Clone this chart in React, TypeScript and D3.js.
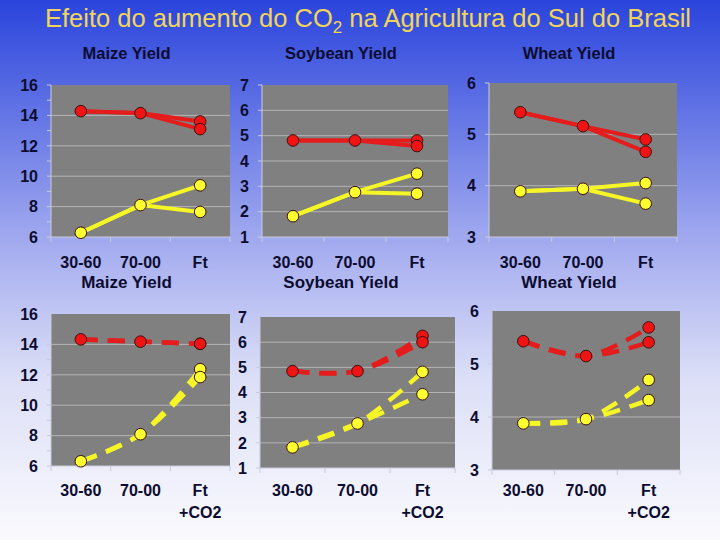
import React from 'react';
import * as d3 from 'd3';

// categories and tick values
const categories = ['30-60', '70-00', 'Ft'];
const maizeTicks = [16, 14, 12, 10, 8, 6];
const soyTicks = [7, 6, 5, 4, 3, 2, 1];
const wheatTicks = [6, 5, 4, 3];

// top row: observed trends (two scenarios for the future)
const maizeRed = [[14.28, 14.15, 13.6], [14.28, 14.15, 13.1]];
const maizeYellow = [[6.28, 8.1, 9.4], [6.28, 8.1, 7.65]];
const soyRed = [[4.81, 4.81, 4.81], [4.81, 4.81, 4.59]];
const soyYellow = [[1.82, 2.77, 3.5], [1.82, 2.77, 2.71]];
const wheatRed = [[5.43, 5.16, 4.9], [5.43, 5.16, 4.66]];
const wheatYellow = [[3.89, 3.94, 4.05], [3.89, 3.94, 3.65]];

// bottom row: future with +CO2
const maizeRedCO2 = [[14.33, 14.18, 14.04], [14.33, 14.18, 14.04]];
const maizeYellowCO2 = [[6.31, 8.09, 12.37], [6.31, 8.09, 11.85]];
const soyRedCO2 = [[4.85, 4.85, 6.25], [4.85, 4.85, 6.0]];
const soyYellowCO2 = [[1.82, 2.77, 4.82], [1.82, 2.77, 3.93]];
const wheatRedCO2 = [[5.43, 5.15, 5.69], [5.43, 5.15, 5.41]];
const wheatYellowCO2 = [[3.88, 3.96, 4.7], [3.88, 3.96, 4.32]];

const W = 720;
const H = 540;
const RED = '#e41c1c';
const YELLOW = '#f6f626';
const INK = '#0c0c30';

type PanelProps = {
  x0: number;
  x1: number;
  y0: number;
  y1: number;
  domain: [number, number];
  ticks: number[];
  grid: number[];
  red: number[][];
  yellow: number[][];
  dashed: boolean;
  title?: string;
};

function Panel({ x0, x1, y0, y1, domain, ticks, grid, red, yellow, dashed, title }: PanelProps) {
  const x = d3.scaleBand<string>().domain(categories).range([x0, x1]).padding(0);
  const y = d3.scaleLinear().domain(domain).range([y1, y0]);
  const cx = (i: number) => (x(categories[i]) as number) + x.bandwidth() / 2;

  const line = d3
    .line<number>()
    .x((_, i) => cx(i))
    .y((d) => y(d))
    .curve(dashed ? d3.curveCatmullRom.alpha(0.5) : d3.curveLinear);

  const minor = d3.range(domain[0], domain[1] + 0.001, 1);
  const bounds = [0, 1, 2, 3].map((i) => x0 + i * x.bandwidth());
  const mid = (x0 + x1) / 2 - 14;

  const series = (rows: number[][], color: string, key: string) => (
    <g key={key}>
      {rows
        .slice()
        .reverse()
        .map((r, k) => (
          <path
            key={k}
            d={line(r) ?? ''}
            fill="none"
            stroke={color}
            strokeWidth={dashed ? 4.5 : 4}
            strokeDasharray={dashed ? '17,10' : undefined}
            strokeLinecap="butt"
          />
        ))}
    </g>
  );

  const markers = (rows: number[][], color: string, key: string) => (
    <g key={key}>
      {rows.map((r, k) =>
        r.map((v, i) =>
          k > 0 && i < 2 ? null : (
            <circle key={`${k}-${i}`} cx={cx(i)} cy={y(v)} r={5.8} fill={color} stroke="#3a1010" strokeWidth={1} />
          )
        )
      )}
    </g>
  );

  return (
    <g>
      <rect x={x0} y={y0} width={x1 - x0} height={y1 - y0} fill="#808080" />
      {grid.map((g) => (
        <line key={g} x1={x0} x2={x1} y1={y(g)} y2={y(g)} stroke="#b4b4b4" strokeWidth={1} />
      ))}
      <line x1={x0} x2={x0} y1={y0} y2={y1} stroke="#c8cadc" strokeWidth={1} />
      {minor.map((m) => (
        <line key={m} x1={x0 - 4} x2={x0} y1={y(m)} y2={y(m)} stroke="#c8cadc" strokeWidth={1} />
      ))}
      <line x1={x0} x2={x1} y1={y1} y2={y1} stroke="#c8cadc" strokeWidth={1} />
      {bounds.map((b, i) => (
        <line key={i} x1={b} x2={b} y1={y1} y2={y1 + 5} stroke="#c8cadc" strokeWidth={1} />
      ))}
      {ticks.map((t) => (
        <text
          key={t}
          x={x0 - 13}
          y={y(t)}
          dy="0.36em"
          textAnchor="end"
          fontSize={16}
          fontWeight="bold"
          fill={INK}
        >
          {t}
        </text>
      ))}
      {series(yellow, YELLOW, 'ly')}
      {series(red, RED, 'lr')}
      {markers(yellow, '#ffff30', 'my')}
      {markers(red, '#ee1414', 'mr')}
      {categories.map((c, i) => (
        <text
          key={c}
          x={cx(i)}
          y={dashed ? 490 : 262}
          dy="0.36em"
          textAnchor="middle"
          fontSize={16}
          fontWeight="bold"
          fill={INK}
        >
          {c}
        </text>
      ))}
      {dashed && (
        <text x={cx(2)} y={512} dy="0.36em" textAnchor="middle" fontSize={16} fontWeight="bold" fill={INK}>
          +CO2
        </text>
      )}
      {title && (
        <>
          <text x={mid} y={53} dy="0.36em" textAnchor="middle" fontSize={16.5} fontWeight="bold" fill={INK}>
            {title}
          </text>
          <text x={mid} y={282} dy="0.36em" textAnchor="middle" fontSize={17} fontWeight="bold" fill={INK}>
            {title}
          </text>
        </>
      )}
    </g>
  );
}

export default function App() {
  return (
    <svg
      width={W}
      height={H}
      style={{ position: 'absolute', left: 0, top: 0, fontFamily: 'Liberation Sans, Arial, sans-serif' }}
    >
      <defs>
        <linearGradient id="bg" x1="0" y1="0" x2="0" y2="1">
          <stop offset="0" stopColor="#2a44dc" />
          <stop offset="0.45" stopColor="#a3abef" />
          <stop offset="0.7" stopColor="#dcdff7" />
          <stop offset="1" stopColor="#fafafd" />
        </linearGradient>
      </defs>
      <rect width={W} height={H} fill="url(#bg)" />
      <text x={368} y={18} dy="0.36em" textAnchor="middle" fontSize={25.5} fill="#f0d55a">
        Efeito do aumento do{'  '}CO
        <tspan fontSize={17} dy="6">2</tspan>
        <tspan dy="-6"> na Agricultura do Sul do Brasil</tspan>
      </text>

      <Panel x0={51} x1={230} y0={85} y1={237} domain={[6, 16]} ticks={maizeTicks} grid={[14, 12, 10, 8]}
        red={maizeRed} yellow={maizeYellow} dashed={false} title="Maize Yield" />
      <Panel x0={262} x1={448} y0={85} y1={237} domain={[1, 7]} ticks={soyTicks} grid={[6, 5, 4, 3, 2]}
        red={soyRed} yellow={soyYellow} dashed={false} title="Soybean Yield" />
      <Panel x0={489} x1={677} y0={83} y1={237} domain={[3, 6]} ticks={wheatTicks} grid={[5, 4]}
        red={wheatRed} yellow={wheatYellow} dashed={false} title="Wheat Yield" />

      <Panel x0={51} x1={230} y0={314} y1={466} domain={[6, 16]} ticks={maizeTicks} grid={[14, 12, 10, 8]}
        red={maizeRedCO2} yellow={maizeYellowCO2} dashed={true} />
      <Panel x0={260} x1={455} y0={317} y1={468} domain={[1, 7]} ticks={soyTicks} grid={[6, 5, 4, 3, 2]}
        red={soyRedCO2} yellow={soyYellowCO2} dashed={true} />
      <Panel x0={492} x1={680} y0={311} y1={470} domain={[3, 6]} ticks={wheatTicks} grid={[4]}
        red={wheatRedCO2} yellow={wheatYellowCO2} dashed={true} />
    </svg>
  );
}
